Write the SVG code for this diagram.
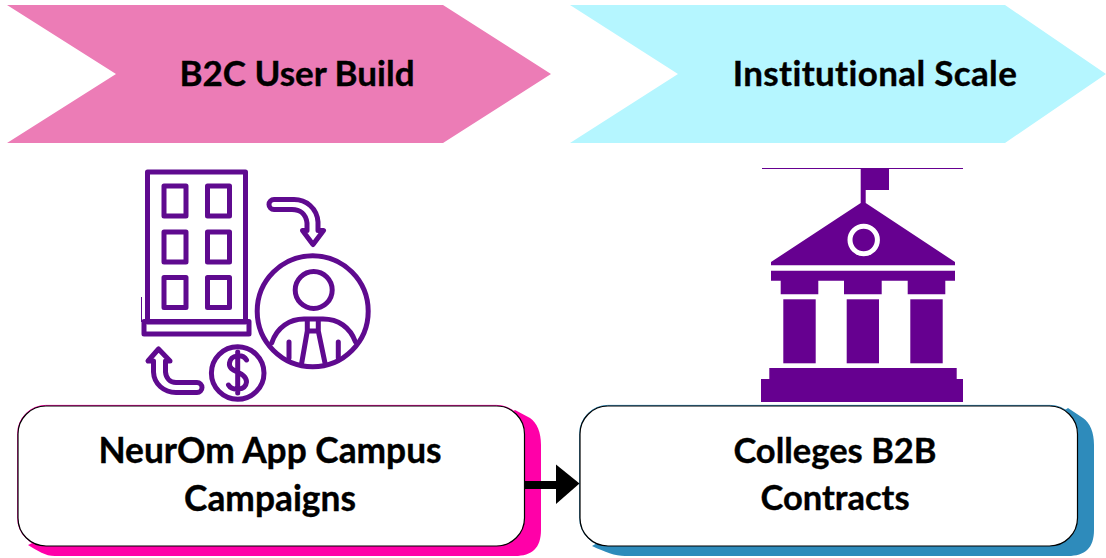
<svg xmlns="http://www.w3.org/2000/svg" width="1106" height="558" viewBox="0 0 1106 558">
<style>
.t{font-family:"Lato","Open Sans","Liberation Sans",sans-serif;font-weight:700;fill:#000;text-anchor:middle;font-variant-ligatures:none;stroke:#000;stroke-width:.35}
.h{font-size:35px}
.b{font-size:35.300px}
.c{font-size:34.500px}
.i{fill:none;stroke:#5f0a8f;stroke-width:5;stroke-linejoin:round;stroke-linecap:round}
.f{fill:#660090}
.box{fill:#fff;stroke:#000;stroke-width:1.200}
</style>
<rect width="1106" height="558" fill="#fff"/>
<g id="phase-b2c">
<polygon points="7,5 443,5 551,74 443,143 7,143 116,74" fill="#ec7cb6"/>
<text class="t h" x="297" y="86">B2C User Build</text>
</g>
<g id="phase-institutional">
<polygon points="570,5 1005,5 1106,74 1005,143 570,143 678,74" fill="#b5f6ff"/>
<text class="t h" x="875" y="86" letter-spacing=".35">Institutional Scale</text>
</g>
<g id="icon-campaign">
<path d="M141.500 297V322" fill="none" stroke="#5f0a8f" stroke-width="1"/>
<rect class="i" x="147.500" y="172" width="98" height="150"/>
<rect class="i" x="144" y="321.500" width="105" height="12.500"/>
<g>
<rect class="i" x="164" y="186" width="22" height="30"/><rect class="i" x="207.500" y="186" width="22" height="30"/>
<rect class="i" x="164" y="232" width="22" height="30"/><rect class="i" x="207.500" y="232" width="22" height="30"/>
<rect class="i" x="164" y="277.500" width="22" height="30"/><rect class="i" x="207.500" y="277.500" width="22" height="30"/>
</g>
<circle class="i" cx="312.700" cy="311.300" r="55.500"/>
<circle class="i" cx="313.700" cy="290" r="18.500"/>
<path class="i" d="M271.700 343C277 327 290 319 304 319H323C338 319 350 327 355.500 342"/>
<path class="i" d="M289 342V358M338.300 342V358M307.300 320V331H318.300V320M307.300 331L301.700 363M318.300 331L325 363"/>
<path class="i" d="M274 199.500A5 5 0 0 0 274 209.500H292C300 209.500 306 214 307 223V230.500H302.500L313 244.500L323.500 230.500H318V222C317 208 306 199.500 294 199.500Z"/>
<circle class="i" cx="237.700" cy="373" r="26.300"/>
<path class="i" d="M246.500 360C243 354 231 354 229.500 363C228 373 246.500 371 246.500 382C245.500 391 232 391 228.500 385M237.700 352V393"/>
<path class="i" d="M197 382.500H176C170 382.500 166 378 165.500 372V361H170L158.500 349L148 361H153.500V372C154 384 164 392.500 176 392.500H197A5 5 0 0 0 197 382.500Z"/>
</g>
<g id="icon-institution">
<rect x="762" y="168" width="201" height="1" class="f"/>
<path class="f" d="M860.700 169H889V190H865.700V203L955 262V265.300H771V262L860.700 203Z"/>
<circle cx="863.700" cy="240" r="13.700" class="f" stroke="#fff" stroke-width="5"/>
<path class="f" d="M771 270.700H955V280.700H945.300V294.300H907.700V280.700H881.700V294.300H844V280.700H818.300V294.300H780.700V280.700H771Z"/>
<rect x="783.300" y="299.300" width="32.400" height="64" class="f"/>
<rect x="846.700" y="299.300" width="32.300" height="64" class="f"/>
<rect x="910.300" y="299.300" width="32.400" height="64" class="f"/>
<path class="f" d="M769.300 368H956.700V379H963V402H761V379H769.300Z"/>
</g>
<g id="node-campaigns">
<path d="M60 420H500L515 410L530 418C537 423 541 432 541 445V530C541 548 532 556 515 556H55C45 556 38 551 28 545L60 530Z" fill="#ff00a8"/>
<rect x="17.700" y="405.400" width="507" height="140.800" rx="28" fill="none" stroke="#ff00a8" stroke-width="1"/>
<rect class="box" x="18" y="406" width="506.500" height="140" rx="28"/>
<text class="t b" x="270" y="463">NeurOm App Campus</text>
<text class="t b" x="270" y="511">Campaigns</text>
</g>
<g id="node-contracts">
<path d="M620 420H1050L1068 408L1083 418C1090 423 1094 432 1094 445V530C1094 548 1085 556 1068 556H625C615 556 605 552 592 546L620 530Z" fill="#2e8bbb"/>
<rect x="579.700" y="405.400" width="498.500" height="140.800" rx="28" fill="none" stroke="#2e8bbb" stroke-width="1"/>
<rect class="box" x="580" y="406" width="497.500" height="140" rx="28"/>
<text class="t c" x="835" y="463">Colleges B2B</text>
<text class="t c" x="835" y="510">Contracts</text>
</g>
<g id="connectors">
<path d="M525 485H557" fill="none" stroke="#000" stroke-width="8"/>
<polygon points="556,464.500 579.500,483.500 556,504" fill="#000"/>
</g>
</svg>
